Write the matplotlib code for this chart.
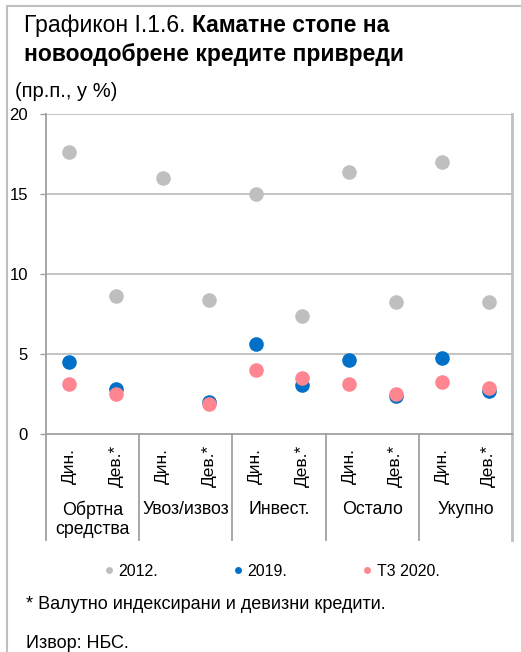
import numpy as np
import matplotlib
matplotlib.use("Agg")
import matplotlib.pyplot as plt
from matplotlib.lines import Line2D

plt.rcParams['font.family'] = ['Liberation Sans', 'DejaVu Sans']

# categories and sub-categories (dinar / foreign-currency loans)
groups = ["Обртна\nсредства", "Увоз/извоз", "Инвест.", "Остало", "Укупно"]
sub_labels = ["Дин.", "Дев.*"]

# interest rates, % (one value per group x sub-category)
rates_2012 = [17.6, 8.6, 16.0, 8.35, 15.0, 7.35, 16.35, 8.25, 17.0, 8.25]
rates_2019 = [4.5, 2.8, np.nan, 2.0, 5.6, 3.05, 4.6, 2.35, 4.75, 2.7]
rates_2020 = [3.1, 2.5, np.nan, 1.85, 4.0, 3.5, 3.1, 2.5, 3.25, 2.85]

series = [("2012.", rates_2012, "#BFBFBF"),
          ("2019.", rates_2019, "#0070C8"),
          ("Т3 2020.", rates_2020, "#FF8690")]

W, H = 521, 652
fig = plt.figure(figsize=(W / 100, H / 100), dpi=100)
ax = fig.add_axes([46 / W, 1 - 434 / H, (512 - 46) / W, (434 - 114) / H])

grey = "#BFBFBF"
dark = "#A0A0A0"

x = np.arange(len(rates_2012))
for name, vals, col in series:
    ax.plot(x, vals, linestyle="none", marker="o", markersize=10.5,
            color=col, markeredgewidth=0, label=name, zorder=3)

ax.set_xlim(-0.5, len(x) - 0.5)
ax.set_ylim(0, 20)
ax.set_yticks([0, 5, 10, 15, 20])
ax.tick_params(axis="y", length=4, width=1, color=dark, pad=9, labelsize=12)
ax.set_xticks([])
for v in [5, 10, 15, 20]:
    ax.axhline(v, color=grey, lw=1.3, zorder=1)

ax.spines["top"].set_visible(False)
ax.spines["left"].set_color(dark)
ax.spines["bottom"].set_color(dark)
ax.spines["right"].set_color(grey)
ax.spines["left"].set_linewidth(1.3)
ax.spines["bottom"].set_linewidth(1.3)
ax.spines["right"].set_linewidth(2)

# group separators running down through the category labels
trans = ax.get_xaxis_transform()
sep_bottom = -(540 - 434) / (434 - 114)
for i in range(len(groups) + 1):
    xs = 2 * i - 0.5
    last = i == len(groups)
    ax.plot([xs, xs], [0, sep_bottom], color=grey if last else dark,
            lw=2 if last else 1.3, transform=trans, clip_on=False)

for i in x:
    ax.text(i, -(466 - 434) / 320, sub_labels[i % 2], rotation=90,
            ha="center", va="center", fontsize=12.5, transform=trans)

for g, name in enumerate(groups):
    ax.text(2 * g + 0.5, -(501 - 434) / 320, name, ha="center", va="top",
            fontsize=12.8, linespacing=1.1, transform=trans)

# title and units
t1 = fig.text(24 / W, 1 - 32 / H, "Графикон I.1.6. ", fontsize=16.5,
              ha="left", va="baseline")
fig.canvas.draw()
bb = t1.get_window_extent()
fig.text(bb.x1 / W, 1 - 32 / H, "Каматне стопе на", fontsize=16.5,
         fontweight="bold", ha="left", va="baseline")
fig.text(24 / W, 1 - 61 / H, "новоодобрене кредите привреди", fontsize=16.5,
         fontweight="bold", ha="left", va="baseline")
fig.text(15 / W, 1 - 97 / H, "(пр.п., у %)", fontsize=14.5, ha="left",
         va="baseline")

handles = [Line2D([], [], linestyle="none", marker="o", markersize=5,
                  markeredgewidth=0, color=c) for _, _, c in series]
fig.legend(handles, [n for n, _, _ in series], loc="center",
           bbox_to_anchor=(272 / W, 1 - 571 / H), ncol=3, frameon=False,
           fontsize=11.5, handlelength=0.6, handletextpad=0.3,
           columnspacing=4.7)

fig.text(26 / W, 1 - 609 / H, "* Валутно индексирани и девизни кредити.",
         fontsize=13, ha="left", va="baseline")
fig.text(26 / W, 1 - 648 / H, "Извор: НБС.", fontsize=13, ha="left",
         va="baseline")

# outer frame (top and left edges)
fig.add_artist(Line2D([7 / W, 1], [1 - 6 / H, 1 - 6 / H], color=grey, lw=1.5,
                      transform=fig.transFigure))
fig.add_artist(Line2D([7 / W, 7 / W], [1 - 6 / H, 0], color=grey, lw=1.5,
                      transform=fig.transFigure))

fig.savefig("out.png", dpi=100)
